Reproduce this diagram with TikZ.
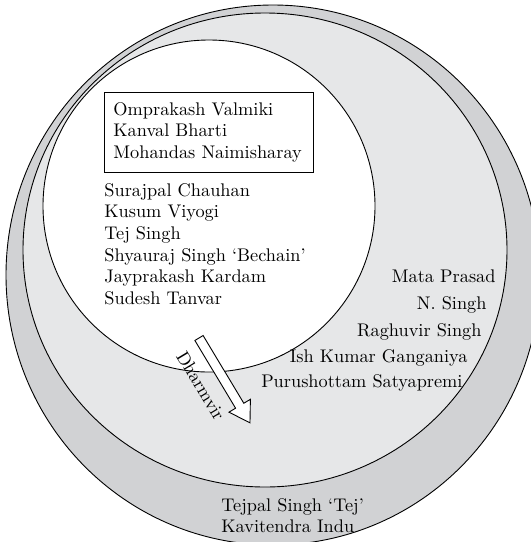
\documentclass[tikz,border=0pt]{standalone}
\usepackage{fontspec}
\usepackage{tikz}
\newfontfamily\namefont{lmroman10-regular.otf}
\definecolor{ringdark}{RGB}{209,210,212}
\definecolor{ringlight}{RGB}{230,231,232}

\begin{document}
\begin{tikzpicture}[x=1pt, y=-1pt, line width=0.9pt,
    names/.style={font=\namefont\fontsize{18.3}{21.6}\selectfont, inner sep=0pt}]
    \useasboundingbox (0,0) rectangle (531,542);
    \clip (0,0) rectangle (531,542);

    % the three circles
    \draw[fill=ringdark] (273,275) ellipse [x radius=267, y radius=270];
    \draw[fill=ringlight] (265,250) ellipse [x radius=242, y radius=237];
    \draw[fill=white] (209,206) circle [radius=166];

    \node[names, draw, anchor=north west, align=left, text width=191pt,
          inner xsep=9pt, inner ysep=10pt] (core) at (104,92)
        {Omprakash Valmiki\\Kanval Bharti\\Mohandas Naimisharay};
    \node[names, anchor=north west, align=left] (inner) at (104,183)
        {Surajpal Chauhan\\Kusum Viyogi\\Tej Singh\\Shyauraj Singh ‘Bechain’\\Jayprakash Kardam\\Sudesh Tanvar};

    \node[names, anchor=base east] (prasad) at (496,282) {Mata Prasad};
    \node[names, anchor=base east] (nsingh) at (487,309) {N. Singh};
    \node[names, anchor=base east] (raghuvir) at (482,336) {Raghuvir Singh};
    \node[names, anchor=base east] (ganganiya) at (468,362) {Ish Kumar Ganganiya};
    \node[names, anchor=base east] (satyapremi) at (463,387) {Purushottam Satyapremi};

    \node[names, anchor=north west, align=left] (outer) at (221,498)
        {Tejpal Singh ‘Tej’\\Kavitendra Indu};

    % the arrow out of the inner circle
    \begin{scope}[shift={(199,338)}, rotate=-59]
        \draw[fill=white] (0,4.8) -- (79,4.8) -- (79,12.5) -- (99,0)
            -- (79,-12.5) -- (79,-4.8) -- (0,-4.8) -- cycle;
        \node[names, rotate=-59] (dharmvir) at (42,23) {Dharmvir};
    \end{scope}
\end{tikzpicture}
\end{document}
